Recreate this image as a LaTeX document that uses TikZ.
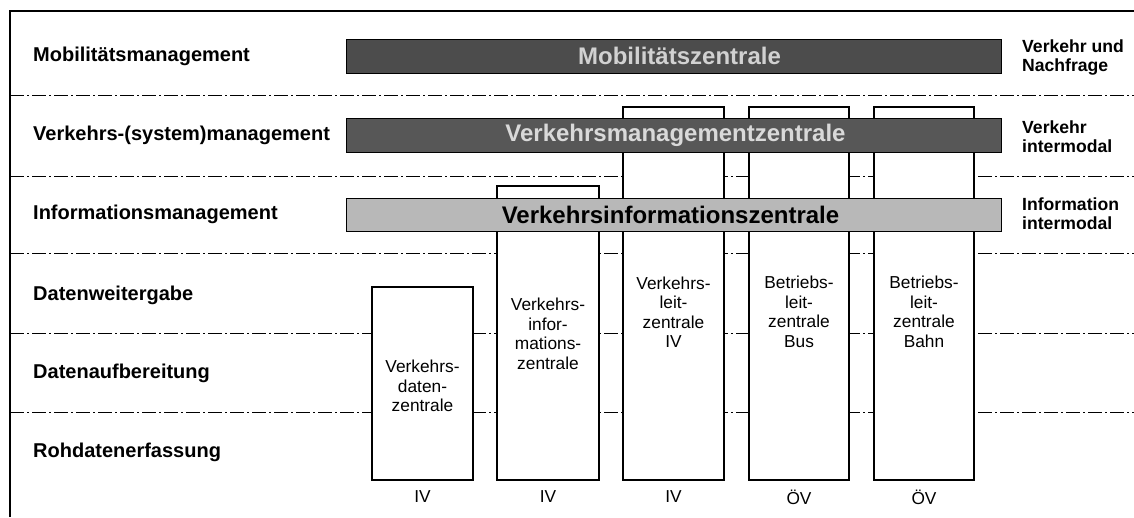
\documentclass[tikz,border=0pt]{standalone}
\usepackage{fontspec}
\setmainfont{Liberation Sans}
\usetikzlibrary{calc}

\tikzset{
  rowlabel/.style={anchor=west, inner sep=0pt, font=\fontsize{20}{22}\selectfont\bfseries},
  sidelabel/.style={anchor=west, inner sep=0pt, align=left, font=\fontsize{17.6}{19}\selectfont\bfseries},
  levelline/.style={line width=0.9pt, dash pattern=on 14pt off 3pt on 2pt off 3pt},
  framestyle/.style={line width=1.5pt},
  centrebox/.style={draw, line width=1.4pt, fill=white, anchor=north west, inner sep=0pt, outer sep=0pt},
  boxtext/.style={align=center, inner sep=0pt, font=\fontsize{17.3}{19.5}\selectfont},
  modelabel/.style={inner sep=0pt, font=\fontsize{17.3}{19.5}\selectfont},
  bar/.style={draw, line width=0.8pt, anchor=north west, inner sep=0pt, outer sep=0pt,
              minimum width=655pt},
  bartext/.style={inner sep=0pt, font=\fontsize{24}{26}\selectfont\bfseries},
}

\begin{document}
\begin{tikzpicture}[x=1pt, y=-1pt]
  \useasboundingbox (0,0) rectangle (1134,517);

  % outer frame (left and top edges)
  \coordinate (fbl) at (10,517);
  \coordinate (ftl) at (10,11);
  \coordinate (ftr) at (1134,11);
  \draw[framestyle] (fbl) -- (ftl) -- (ftr);

  % level separators
  \foreach \i/\yy in {1/95, 2/176, 3/253, 4/333, 5/412} {
    \coordinate (sepL\i) at (10,\yy);
    \coordinate (sepR\i) at (1134,\yy);
    \draw[levelline] (sepL\i) -- (sepR\i);
  }

  % level names
  \node[rowlabel] (lvMob)  at (33,56)  {Mobilitätsmanagement};
  \node[rowlabel] (lvVM)   at (33,135) {Verkehrs-(system)management};
  \node[rowlabel] (lvInf)  at (33,214) {Informationsmanagement};
  \node[rowlabel] (lvWeit) at (33,295) {Datenweitergabe};
  \node[rowlabel] (lvAuf)  at (33,373) {Datenaufbereitung};
  \node[rowlabel] (lvRoh)  at (33,452) {Rohdatenerfassung};

  % scope labels on the right
  \node[sidelabel] (scMob) at (1022,57)  {Verkehr und\\Nachfrage};
  \node[sidelabel] (scVM)  at (1022,137) {Verkehr\\intermodal};
  \node[sidelabel] (scInf) at (1022,214) {Information\\intermodal};

  % individual centres
  \node[centrebox, minimum width=101pt, minimum height=193pt] (vdz)    at (372,287) {};
  \node[centrebox, minimum width=102pt, minimum height=294pt] (viz)    at (497,186) {};
  \node[centrebox, minimum width=101pt, minimum height=373pt] (vlz)    at (623,107) {};
  \node[centrebox, minimum width=100pt, minimum height=373pt] (blbus)  at (749,107) {};
  \node[centrebox, minimum width=100pt, minimum height=373pt] (blbahn) at (874,107) {};

  \node[boxtext] (tVdz)    at ($(vdz.north)+(0,99)$)    {Verkehrs-\\daten-\\zentrale};
  \node[boxtext] (tViz)    at ($(viz.north)+(0,148)$)   {Verkehrs-\\infor-\\mations-\\zentrale};
  \node[boxtext] (tVlz)    at ($(vlz.north)+(0,205)$)   {Verkehrs-\\leit-\\zentrale\\IV};
  \node[boxtext] (tBlbus)  at ($(blbus.north)+(0,205)$) {Betriebs-\\leit-\\zentrale\\Bus};
  \node[boxtext] (tBlbahn) at ($(blbahn.north)+(0,205)$){Betriebs-\\leit-\\zentrale\\Bahn};

  % transport mode under each centre
  \node[modelabel] (mVdz)    at ($(vdz.south)+(0,17)$)    {IV};
  \node[modelabel] (mViz)    at ($(viz.south)+(0,17)$)    {IV};
  \node[modelabel] (mVlz)    at ($(vlz.south)+(0,17)$)    {IV};
  \node[modelabel] (mBlbus)  at ($(blbus.south)+(0,17)$)  {ÖV};
  \node[modelabel] (mBlbahn) at ($(blbahn.south)+(0,17)$) {ÖV};

  % overarching centres
  \node[bar, fill=black!70, minimum height=34pt] (barMob) at (346,39) {};
  \node[bartext, text=black!18] at ($(barMob.center)+(6,0)$) {Mobilitätszentrale};

  \node[bar, fill=black!66, minimum height=34pt] (barVM) at (346,118) {};
  \node[bartext, text=black!15] at ($(barVM.center)+(2,0)$) {Verkehrsmanagementzentrale};

  \node[bar, fill=black!28, minimum height=33pt] (barInf) at (346,198) {};
  \node[bartext, text=black] at ($(barInf.center)+(-3,0)$) {Verkehrsinformationszentrale};
\end{tikzpicture}
\end{document}
